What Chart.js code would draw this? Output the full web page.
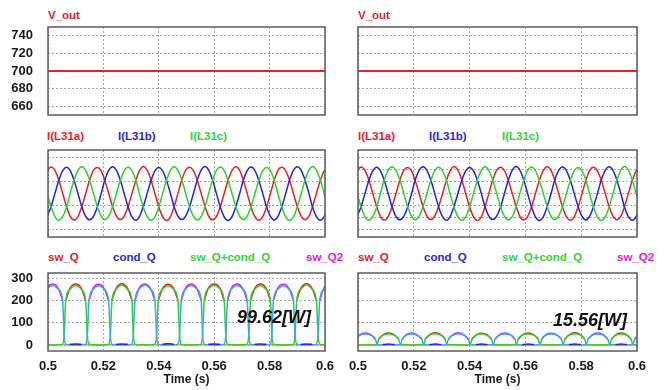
<!DOCTYPE html>
<html lang="en">
<head>
<meta charset="UTF-8">
<title>V_out, I(L31) and switch losses</title>
<script src="https://cdn.jsdelivr.net/npm/chart.js@4"></script>
<style>
  body { margin: 0; background: #fff; }
  #wrap { position: relative; width: 671px; height: 390px; overflow: hidden;
          font-family: "Liberation Sans", Arial, sans-serif; }
  canvas { position: absolute; }
  .lbl { position: absolute; font-weight: bold; font-size: 11.5px; line-height: 14px; white-space: nowrap; z-index: 4; }
  .watt { position: absolute; font-weight: bold; font-style: italic; font-size: 18px;
          line-height: 22px; color: #111; z-index: 5; }
  .red { color: #e8202a; } .blue { color: #2a2ad8; } .green { color: #33d633; } .mag { color: #e020e0; }
</style>
</head>
<body>
<div id="wrap">
  <canvas id="voutL" width="340" height="98" style="left:0;top:22px"></canvas>
  <canvas id="voutR" width="341" height="98" style="left:330px;top:22px"></canvas>
  <canvas id="curL" width="340" height="97" style="left:0;top:145px"></canvas>
  <canvas id="curR" width="341" height="97" style="left:330px;top:145px"></canvas>
  <canvas id="lossL" width="340" height="122" style="left:0;top:268px"></canvas>
  <canvas id="lossR" width="341" height="122" style="left:330px;top:268px"></canvas>

  <!-- trace names -->
  <div class="lbl red" style="left:48px;top:8px">V_out</div>
  <div class="lbl red" style="left:358px;top:8px">V_out</div>

  <div class="lbl red" style="left:47px;top:129px">I(L31a)</div>
  <div class="lbl blue" style="left:118px;top:129px">I(L31b)</div>
  <div class="lbl green" style="left:190px;top:129px">I(L31c)</div>
  <div class="lbl red" style="left:358px;top:129px">I(L31a)</div>
  <div class="lbl blue" style="left:429px;top:129px">I(L31b)</div>
  <div class="lbl green" style="left:502px;top:129px">I(L31c)</div>

  <div class="lbl red" style="left:48px;top:250px">sw_Q</div>
  <div class="lbl blue" style="left:113px;top:250px">cond_Q</div>
  <div class="lbl green" style="left:190px;top:250px">sw_Q+cond_Q</div>
  <div class="lbl mag" style="left:306px;top:250px">sw_Q2</div>
  <div class="lbl red" style="left:358px;top:250px">sw_Q</div>
  <div class="lbl blue" style="left:424px;top:250px">cond_Q</div>
  <div class="lbl green" style="left:502px;top:250px">sw_Q+cond_Q</div>
  <div class="lbl mag" style="left:617px;top:250px">sw_Q2</div>

  <div class="watt" style="left:237px;top:306px">99.62[W]</div>
  <div class="watt" style="left:553px;top:309px">15.56[W]</div>
</div>

<script>
// ---- data ----
const xTicks = [0.5, 0.52, 0.54, 0.56, 0.58, 0.6];
const xTickLabels = ['0.5', '0.52', '0.54', '0.56', '0.58', '0.6'];

// output voltage (flat)
const tVout = [0.5, 0.6];
const vOut = [700, 700];

// phase currents, sampled every 30 deg
const tCur = [
  0.4997,
  0.5011, 0.5025, 0.5039, 0.5053, 0.5067, 0.5080, 0.5094, 0.5108, 0.5122, 0.5136, 0.5150, 0.5164,
  0.5178, 0.5192, 0.5205, 0.5219, 0.5233, 0.5247, 0.5261, 0.5275, 0.5289, 0.5303, 0.5317, 0.5330,
  0.5344, 0.5358, 0.5372, 0.5386, 0.5400, 0.5414, 0.5428, 0.5442, 0.5455, 0.5469, 0.5483, 0.5497,
  0.5511, 0.5525, 0.5539, 0.5553, 0.5567, 0.5580, 0.5594, 0.5608, 0.5622, 0.5636, 0.5650, 0.5664,
  0.5678, 0.5692, 0.5705, 0.5719, 0.5733, 0.5747, 0.5761, 0.5775, 0.5789, 0.5803, 0.5817, 0.5830,
  0.5844, 0.5858, 0.5872, 0.5886, 0.5900, 0.5914, 0.5928, 0.5942, 0.5955, 0.5969, 0.5983, 0.5997,
  0.6011
];
const iA = [
  19,
  22, 19.1, 11, 0, -11, -19, -22, -19.1, -11, 0, 11, 19.1,
  21.6, 18.7, 10.8, 0.2, -10.8, -18.7, -21.6, -18.7, -10.8, -0.1, 10.8, 18.7,
  22.3, 19.3, 11.2, 0, -11.1, -19.3, -22.3, -19.3, -11.2, 0.1, 11.1, 19.3,
  21.8, 18.9, 10.9, -0.1, -10.9, -18.9, -21.8, -18.9, -10.9, 0, 10.9, 18.9,
  22.2, 19.2, 11.1, 0.1, -11.1, -19.2, -22.2, -19.2, -11.1, -0.1, 11.1, 19.2,
  21.7, 18.8, 10.9, 0, -10.8, -18.8, -21.7, -18.8, -10.9, 0.1, 10.8, 18.8,
  22
];
const iB = [
  -19,
  -10.9, 0, 10.9, 18.9, 21.8, 18.9, 10.9, 0.1, -10.9, -18.9, -21.8, -18.9,
  -11.1, -0.1, 11.1, 19.2, 22.2, 19.2, 11.1, 0, -11.1, -19.2, -22.2, -19.2,
  -10.8, 0.1, 10.8, 18.7, 21.6, 18.7, 10.8, 0, -10.8, -18.7, -21.6, -18.7,
  -11.2, 0, 11.1, 19.3, 22.3, 19.3, 11.2, -0.1, -11.1, -19.3, -22.3, -19.3,
  -10.9, 0, 11, 19, 21.9, 19, 10.9, 0.1, -11, -19, -21.9, -19,
  -11, -0.1, 11.1, 19.1, 22.1, 19.1, 11, 0, -11.1, -19.1, -22.1, -19.1,
  -11
];
const iC = [
  0,
  -11, -19.1, -22.1, -19.1, -11.1, 0, 11, 19.1, 22.1, 19.1, 11.1, 0.1,
  -10.8, -18.8, -21.7, -18.8, -10.9, 0, 10.8, 18.8, 21.7, 18.8, 10.9, -0.1,
  -11.1, -19.2, -22.2, -19.2, -11.1, 0.1, 11.1, 19.2, 22.2, 19.2, 11.1, 0,
  -11, -19, -21.9, -19, -10.9, 0, 11, 19, 21.9, 19, 10.9, 0.1,
  -10.8, -18.7, -21.6, -18.7, -10.8, 0, 10.8, 18.7, 21.6, 18.7, 10.8, -0.1,
  -11.2, -19.3, -22.3, -19.3, -11.1, 0, 11.1, 19.3, 22.3, 19.3, 11.2, 0,
  -11
];

// losses, left case (one row = one half cycle)
const tLossL = [
  0.4975, 0.4981, 0.4996, 0.5017, 0.5038, 0.5053,
  0.5058, 0.5064, 0.5079, 0.5100, 0.5121, 0.5136,
  0.5142, 0.5148, 0.5163, 0.5183, 0.5204, 0.5219,
  0.5225, 0.5231, 0.5246, 0.5267, 0.5288, 0.5303,
  0.5308, 0.5314, 0.5329, 0.5350, 0.5371, 0.5386,
  0.5392, 0.5398, 0.5413, 0.5433, 0.5454, 0.5469,
  0.5475, 0.5481, 0.5496, 0.5517, 0.5538, 0.5553,
  0.5558, 0.5564, 0.5579, 0.5600, 0.5621, 0.5636,
  0.5642, 0.5648, 0.5663, 0.5683, 0.5704, 0.5719,
  0.5725, 0.5731, 0.5746, 0.5767, 0.5788, 0.5803,
  0.5808, 0.5814, 0.5829, 0.5850, 0.5871, 0.5886,
  0.5892, 0.5898, 0.5913, 0.5933, 0.5954, 0.5969,
  0.5975, 0.5981, 0.5996, 0.6017
];
const totQL = [
  45, 4, 1, 0, 1, 4,
  45, 200, 250, 268, 250, 198,
  45, 4, 1, 0, 1, 4,
  44, 202, 251, 270, 249, 200,
  46, 4, 1, 0, 1, 4,
  46, 199, 249, 267, 250, 201,
  45, 4, 1, 0, 1, 4,
  45, 201, 252, 269, 251, 199,
  44, 4, 1, 0, 1, 4,
  45, 200, 250, 268, 250, 200,
  45, 4, 1, 0, 1, 4,
  45, 202, 251, 270, 250, 200,
  45, 4, 1, 0
];
const totQ2L = [
  45, 200, 252, 268, 250, 200,
  45, 4, 1, 0, 1, 4,
  45, 201, 250, 267, 249, 199,
  44, 4, 1, 0, 1, 4,
  46, 200, 251, 269, 250, 200,
  46, 4, 1, 0, 1, 4,
  45, 199, 250, 268, 251, 201,
  45, 4, 1, 0, 1, 4,
  44, 200, 252, 268, 250, 200,
  45, 4, 1, 0, 1, 4,
  45, 201, 250, 267, 249, 200,
  45, 4, 1, 0, 1, 4,
  45, 200, 251, 268
];
const swQL = [
  null, null, null, null, null, null,
  null, 200, 254, 274, 254, 198,
  null, null, null, null, null, null,
  null, 202, 255, 276, 253, 200,
  null, null, null, null, null, null,
  null, 199, 253, 273, 254, 201,
  null, null, null, null, null, null,
  null, 201, 256, 275, 255, 199,
  null, null, null, null, null, null,
  null, 200, 254, 274, 254, 200,
  null, null, null, null, null, null,
  null, 202, 255, 276, 254, 200,
  null, null, null, null
];
const swQ2L = [
  null, 200, 257, 274, 253, 200,
  null, null, null, null, null, null,
  null, 201, 255, 273, 251, 199,
  null, null, null, null, null, null,
  null, 200, 256, 275, 252, 200,
  null, null, null, null, null, null,
  null, 199, 255, 274, 253, 201,
  null, null, null, null, null, null,
  null, 200, 257, 274, 252, 200,
  null, null, null, null, null, null,
  null, 201, 255, 273, 251, 200,
  null, null, null, null, null, null,
  null, 200, 256, 274
];
const condQL = [
  null, null, null, null, null, null,
  null, null, 3, 5, 3, null,
  null, null, null, null, null, null,
  null, null, 3, 5, 3, null,
  null, null, null, null, null, null,
  null, null, 3, 6, 3, null,
  null, null, null, null, null, null,
  null, null, 3, 5, 3, null,
  null, null, null, null, null, null,
  null, null, 3, 5, 3, null,
  null, null, null, null, null, null,
  null, null, 3, 5, 3, null,
  null, null, null, null
];

// losses, right case
const tLossR = [
  0.4985, 0.4991, 0.5006, 0.5027, 0.5048, 0.5063,
  0.5068, 0.5074, 0.5089, 0.5110, 0.5131, 0.5146,
  0.5152, 0.5158, 0.5173, 0.5193, 0.5214, 0.5229,
  0.5235, 0.5241, 0.5256, 0.5277, 0.5298, 0.5313,
  0.5318, 0.5324, 0.5339, 0.5360, 0.5381, 0.5396,
  0.5402, 0.5408, 0.5423, 0.5443, 0.5464, 0.5479,
  0.5485, 0.5491, 0.5506, 0.5527, 0.5548, 0.5563,
  0.5568, 0.5574, 0.5589, 0.5610, 0.5631, 0.5646,
  0.5652, 0.5658, 0.5673, 0.5693, 0.5714, 0.5729,
  0.5735, 0.5741, 0.5756, 0.5777, 0.5798, 0.5813,
  0.5818, 0.5824, 0.5839, 0.5860, 0.5881, 0.5896,
  0.5902, 0.5908, 0.5923, 0.5943, 0.5964, 0.5979,
  0.5985, 0.5991, 0.6006, 0.6027
];
const totQR = [
  2, 1, 0, 0, 0, 1,
  2, 25, 43, 50, 43, 25,
  2, 1, 0, 0, 0, 1,
  2, 26, 44, 51, 43, 25,
  2, 1, 0, 0, 0, 1,
  2, 25, 43, 49, 42, 25,
  2, 1, 0, 0, 0, 1,
  2, 25, 44, 50, 43, 26,
  2, 1, 0, 0, 0, 1,
  2, 26, 43, 51, 44, 25,
  2, 1, 0, 0, 0, 1,
  2, 25, 43, 50, 43, 25,
  2, 1, 0, 0
];
const totQ2R = [
  2, 25, 43, 50, 43, 25,
  2, 1, 0, 0, 0, 1,
  2, 25, 44, 50, 42, 25,
  2, 1, 0, 0, 0, 1,
  2, 26, 43, 51, 43, 25,
  2, 1, 0, 0, 0, 1,
  2, 25, 43, 50, 44, 25,
  2, 1, 0, 0, 0, 1,
  2, 25, 44, 49, 43, 26,
  2, 1, 0, 0, 0, 1,
  2, 25, 43, 50, 43, 25,
  2, 1, 0, 0, 0, 1,
  2, 25, 44, 50
];
const swQR = [
  null, null, null, null, null, null,
  null, 25, 45, 54, 45, 25,
  null, null, null, null, null, null,
  null, 26, 46, 55, 45, 25,
  null, null, null, null, null, null,
  null, 25, 45, 53, 44, 25,
  null, null, null, null, null, null,
  null, 25, 46, 54, 45, 26,
  null, null, null, null, null, null,
  null, 26, 45, 55, 46, 25,
  null, null, null, null, null, null,
  null, 25, 45, 54, 45, 25,
  null, null, null, null
];
const swQ2R = [
  null, 25, 46, 54, 44, 25,
  null, null, null, null, null, null,
  null, 25, 47, 54, 43, 25,
  null, null, null, null, null, null,
  null, 26, 46, 55, 44, 25,
  null, null, null, null, null, null,
  null, 25, 46, 54, 45, 25,
  null, null, null, null, null, null,
  null, 25, 47, 53, 44, 26,
  null, null, null, null, null, null,
  null, 25, 46, 54, 44, 25,
  null, null, null, null, null, null,
  null, 25, 47, 54
];
const condQR = [
  null, null, null, null, null, null,
  null, null, 2, 4, 2, null,
  null, null, null, null, null, null,
  null, null, 2, 4, 2, null,
  null, null, null, null, null, null,
  null, null, 2, 4, 2, null,
  null, null, null, null, null, null,
  null, null, 2, 4, 2, null,
  null, null, null, null, null, null,
  null, null, 2, 4, 2, null,
  null, null, null, null, null, null,
  null, null, 2, 4, 2, null,
  null, null, null, null
];
// flat trace along the bottom
const tFlat = [0.5, 0.6];
const lowFlat = [1.5, 1.5];

// ---- drawing ----
const RED = '#e8202a', BLUE = '#2424e0', GREEN = '#2ed12e', MAG = '#e61ee6', SKY = '#3aa6f0', ORANGE = '#f0a028';
const gridColor = '#a8a8a8';
const textColor = '#1a1a1a';
const tickFont = { family: '"Liberation Sans", Arial, sans-serif', size: 13, weight: 'bold' };

// build {x,y} points from a time list and a value list
const pts = (ts, ys) => ts.map((t, i) => ({ x: t, y: ys[i] }));

function trace(ts, ys, color, order, width) {
    return {
        data: pts(ts, ys),
        borderColor: color,
        borderWidth: width || 1.5,
        order: order,
        pointRadius: 0,
        cubicInterpolationMode: 'monotone',
        spanGaps: false
    };
}

// dark frame round the plot area
const frame = {
    id: 'frame',
    afterDraw(chart) {
        const { ctx, chartArea: a } = chart;
        ctx.save();
        ctx.strokeStyle = '#5c5c5c';
        ctx.lineWidth = 1.5;
        ctx.strokeRect(a.left, a.top, a.right - a.left, a.bottom - a.top);
        ctx.restore();
    }
};

function panel(id, left, bottomRow, yMin, yMax, yTicks, yLabels, datasets) {
    new Chart(document.getElementById(id), {
        type: 'line',
        data: { datasets: datasets },
        options: {
            responsive: false,
            animation: false,
            events: [],
            layout: { padding: { top: 5, bottom: bottomRow ? 0 : 5, left: 0, right: left ? 15 : 34 } },
            plugins: { legend: { display: false }, tooltip: { enabled: false } },
            scales: {
                x: {
                    type: 'linear', min: 0.5, max: 0.6,
                    afterBuildTicks: ax => { ax.ticks = xTicks.map(v => ({ value: v })); },
                    afterFit: ax => { ax.height = bottomRow ? 39 : 0; ax.paddingLeft = 0; ax.paddingRight = 0; },
                    grid: { color: gridColor, drawTicks: false },
                    border: { display: false, dash: [2, 2] },
                    ticks: {
                        display: bottomRow, padding: 8, color: textColor, font: tickFont,
                        callback: (v, i) => xTickLabels[i]
                    },
                    title: {
                        display: bottomRow, text: 'Time (s)', color: textColor,
                        font: { family: tickFont.family, size: 12, weight: 'bold' },
                        padding: { top: 0, bottom: 3 }
                    }
                },
                y: {
                    min: yMin, max: yMax,
                    afterBuildTicks: ax => { ax.ticks = yTicks.map(v => ({ value: v })); },
                    afterFit: ax => { ax.width = left ? 48 : 28; ax.paddingTop = 0; ax.paddingBottom = 0; },
                    grid: { color: gridColor, drawTicks: false },
                    border: { display: false, dash: [2, 2] },
                    ticks: {
                        display: left, padding: 15, color: textColor, font: tickFont,
                        callback: v => (yLabels.includes(v) ? v : '')
                    }
                }
            }
        },
        plugins: [frame]
    });
}

const voutTicks = [660, 680, 700, 720, 740];
const curTicks = [-30, -20, -10, 0, 10, 20, 30];
const curLabels = [-20, 0, 20];
const lossTicksL = [0, 50, 100, 150, 200, 250, 300];
const lossTicksR = [100, 200, 300];
const lossLabels = [0, 100, 200, 300];

panel('voutL', true, false, 650, 750, voutTicks, voutTicks, [trace(tVout, vOut, RED, 0, 2)]);
panel('voutR', false, false, 650, 750, voutTicks, [], [trace(tVout, vOut, RED, 0, 2)]);

const curSets = () => [
    trace(tCur, iA, RED, 2),
    trace(tCur, iB, BLUE, 1),
    trace(tCur, iC, GREEN, 0)
];
panel('curL', true, false, -36, 36, curTicks, curLabels, curSets());
panel('curR', false, false, -36, 36, curTicks, [], curSets());

panel('lossL', true, true, -27, 324, lossTicksL, lossLabels, [
    trace(tLossL, condQL, BLUE, 0),
    trace(tLossL, totQ2L, SKY, 1),
    trace(tLossL, totQL, GREEN, 2),
    trace(tLossL, swQ2L, MAG, 3),
    trace(tLossL, swQL, RED, 4),
    trace(tFlat, lowFlat, ORANGE, 5)
]);
panel('lossR', false, true, -27, 324, lossTicksR, [], [
    trace(tLossR, condQR, BLUE, 0),
    trace(tLossR, totQ2R, SKY, 1),
    trace(tLossR, totQR, GREEN, 2),
    trace(tLossR, swQ2R, MAG, 3),
    trace(tLossR, swQR, RED, 4),
    trace(tFlat, lowFlat, ORANGE, 5)
]);
</script>
</body>
</html>
